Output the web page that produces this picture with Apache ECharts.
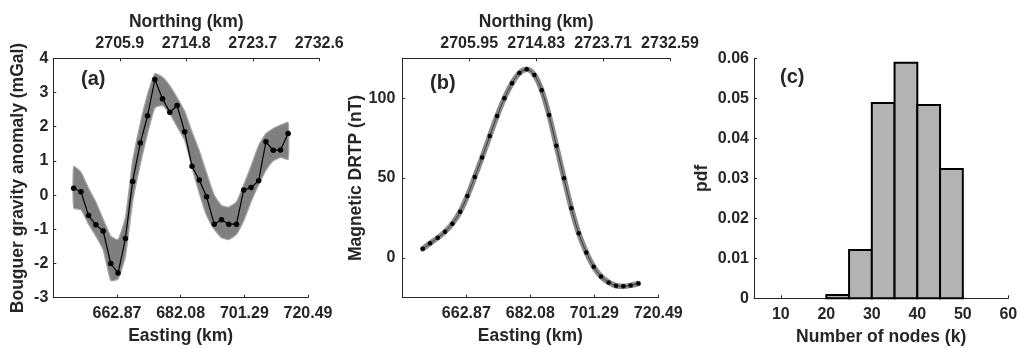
<!DOCTYPE html>
<html><head><meta charset="utf-8">
<script src="https://cdn.jsdelivr.net/npm/echarts@6/dist/echarts.min.js"></script>
<style>html,body{margin:0;padding:0;background:#fff}#c{width:1019px;height:348px}</style>
</head><body><div id="c"></div>
<script>
// ---- data ----
const easting = [649.8, 652.0, 654.3, 656.5, 658.7, 661.0, 663.2, 665.4, 667.6, 669.9,
                 672.1, 674.3, 676.6, 678.8, 681.0, 683.3, 685.5, 687.7, 689.9, 692.2,
                 694.4, 696.6, 698.9, 701.1, 703.3, 705.6, 707.8, 710.0, 712.2, 714.5];
const gravityObs = [0.2, 0.1, -0.6, -0.87, -1.05, -2.0, -2.28, -1.27, 0.4, 1.52,
                    2.32, 3.38, 2.82, 2.42, 2.62, 1.85, 0.84, 0.44, -0.05, -0.85,
                    -0.72, -0.85, -0.85, 0.15, 0.22, 0.42, 1.56, 1.31, 1.32, 1.8];
const gravityUpper = [0.84, 0.67, 0.2, -0.2, -0.7, -1.2, -1.3, -0.65, 1.0, 2.1,
                      2.95, 3.55, 3.45, 3.2, 2.85, 2.45, 1.85, 1.3, 0.65, 0.0,
                      -0.3, -0.35, -0.2, 0.3, 0.85, 1.45, 1.8, 1.95, 2.05, 2.12];
const gravityLower = [-0.38, -0.43, -0.85, -1.2, -1.6, -2.5, -2.45, -1.8, -0.2, 0.9,
                      1.8, 2.55, 2.62, 2.38, 2.0, 1.6, 0.8, 0.05, -0.6, -1.0,
                      -1.25, -1.3, -1.15, -0.75, -0.2, 0.3, 0.72, 1.0, 1.1, 1.05];
const magneticObs = [5.6, 9.1, 12.5, 16.4, 21.4, 28.8, 38.8, 50.6, 62.9, 76.3,
                     88.8, 100, 109.4, 115.8, 118.1, 114.6, 105, 89.4, 70.2, 49.8,
                     31, 15.4, 3.3, -5.6, -11.7, -15.4, -17.5, -17.9, -17.3, -16.1];
const histEdges = [20, 25, 30, 35, 40, 45, 50];
const histPdf = [0.0008, 0.0121, 0.0488, 0.0589, 0.0483, 0.0323];

const eastingTicks = [662.87, 682.08, 701.29, 720.49];
const northingTicksA = [2705.9, 2714.8, 2723.7, 2732.6];
const northingTicksB = [2705.95, 2714.83, 2723.71, 2732.59];
const gravityTicks = [-3, -2, -1, 0, 1, 2, 3, 4];
const magneticTicks = [0, 50, 100];
const pdfTicks = [0, 0.01, 0.02, 0.03, 0.04, 0.05, 0.06];
const nodeTicks = [10, 20, 30, 40, 50, 60];

// ---- style ----
const TXT = '#262626';
const FONT = 'Liberation Sans';
const axisLine = {show: true, onZero: false, lineStyle: {color: TXT, width: 1}};
function tick(vals) { return {show: true, inside: true, length: 3, customValues: vals, lineStyle: {color: TXT}}; }
function lab(vals, fmt, margin) {
  return {show: true, customValues: vals, formatter: fmt, margin: margin,
          color: TXT, fontFamily: FONT, fontWeight: 'bold', fontSize: 16};
}
const nameStyle = {color: TXT, fontFamily: FONT, fontWeight: 'bold', fontSize: 17.5};

const chart = echarts.init(document.getElementById('c'), null, {renderer: 'canvas'});
const top0 = 58.3, h0 = 239.4;
chart.setOption({
  animation: false,
  backgroundColor: '#fff',
  textStyle: {fontFamily: FONT},
  grid: [
    {left: 53.3, top: top0, width: 254.7, height: h0, outerBoundsMode: 'none'},
    {left: 53.3, top: top0, width: 266, height: h0, outerBoundsMode: 'none'},
    {left: 402.3, top: top0, width: 256, height: h0, outerBoundsMode: 'none'},
    {left: 402.3, top: top0, width: 267.7, height: h0, outerBoundsMode: 'none'},
    {left: 754, top: top0, width: 254.3, height: 240, outerBoundsMode: 'none'}
  ],
  xAxis: [
    {gridIndex: 0, type: 'value', position: 'bottom', min: 643.66, max: 720.49,
     axisLine: axisLine, axisTick: tick(eastingTicks), splitLine: {show: false},
     axisLabel: lab(eastingTicks, v => v.toFixed(2), 8),
     name: 'Easting (km)', nameLocation: 'middle', nameGap: 29.5, nameTextStyle: nameStyle},
    {gridIndex: 1, type: 'value', position: 'top', min: 2697.0, max: 2732.6,
     axisLine: axisLine, axisTick: tick(northingTicksA), splitLine: {show: false},
     axisLabel: lab(northingTicksA, v => v.toFixed(1), 6.5),
     name: 'Northing (km)', nameLocation: 'middle', nameGap: 27.5, nameTextStyle: nameStyle},
    {gridIndex: 2, type: 'value', position: 'bottom', min: 643.66, max: 720.49,
     axisLine: axisLine, axisTick: tick(eastingTicks), splitLine: {show: false},
     axisLabel: lab(eastingTicks, v => v.toFixed(2), 8),
     name: 'Easting (km)', nameLocation: 'middle', nameGap: 29.5, nameTextStyle: nameStyle},
    {gridIndex: 3, type: 'value', position: 'top', min: 2697.07, max: 2732.59,
     axisLine: axisLine, axisTick: tick(northingTicksB), splitLine: {show: false},
     axisLabel: lab(northingTicksB, v => v.toFixed(2), 6.5),
     name: 'Northing (km)', nameLocation: 'middle', nameGap: 27.5, nameTextStyle: nameStyle},
    {gridIndex: 4, type: 'value', position: 'bottom', min: 4.1, max: 60,
     axisLine: axisLine, axisTick: tick(nodeTicks), splitLine: {show: false},
     axisLabel: lab(nodeTicks, v => String(v), 8),
     name: 'Number of nodes (k)', nameLocation: 'middle', nameGap: 29.5, nameTextStyle: nameStyle}
  ],
  yAxis: [
    {gridIndex: 0, type: 'value', min: -3, max: 4,
     axisLine: axisLine, axisTick: tick(gravityTicks), splitLine: {show: false},
     axisLabel: lab(gravityTicks, v => String(v), 5),
     name: 'Bouguer gravity anomaly (mGal)', nameLocation: 'middle', nameGap: 26, nameTextStyle: nameStyle},
    {gridIndex: 1, type: 'value', min: 0, max: 1, show: false},
    {gridIndex: 2, type: 'value', min: -25, max: 125,
     axisLine: axisLine, axisTick: tick(magneticTicks), splitLine: {show: false},
     axisLabel: lab(magneticTicks, v => String(v), 7),
     name: 'Magnetic DRTP (nT)', nameLocation: 'middle', nameGap: 35, nameTextStyle: nameStyle},
    {gridIndex: 3, type: 'value', min: 0, max: 1, show: false},
    {gridIndex: 4, type: 'value', min: 0, max: 0.06,
     axisLine: axisLine, axisTick: tick(pdfTicks), splitLine: {show: false},
     axisLabel: lab(pdfTicks, v => (v === 0 ? '0' : v.toFixed(2)), 5),
     name: 'pdf', nameLocation: 'middle', nameGap: 43, nameTextStyle: nameStyle}
  ],
  graphic: [
    {type: 'text', left: 81, top: 69, style: {text: '(a)', fill: TXT, font: 'bold 20px "Liberation Sans"'}},
    {type: 'text', left: 430, top: 73, style: {text: '(b)', fill: TXT, font: 'bold 20px "Liberation Sans"'}},
    {type: 'text', left: 780, top: 67, style: {text: '(c)', fill: TXT, font: 'bold 20px "Liberation Sans"'}}
  ],
  series: [
    {type: 'custom', xAxisIndex: 0, yAxisIndex: 0, z: 1,
     data: easting.map((x, i) => [x, gravityUpper[i], gravityLower[i]]),
     encode: {x: 0, y: [1, 2]},
     renderItem: function (params, api) {
       if (params.dataIndex !== 0) return null;
       const up = easting.map((x, i) => api.coord([x, gravityUpper[i]]));
       const lo = easting.map((x, i) => api.coord([x, gravityLower[i]]));
       return {type: 'group', children: [
         {type: 'polygon', shape: {points: up.concat(lo.slice().reverse()), smooth: 0.15},
          style: {fill: '#7f7f7f', stroke: '#a6a6a6', lineWidth: 1.2}}
       ]};
     }},
    {type: 'line', xAxisIndex: 0, yAxisIndex: 0, z: 3,
     data: easting.map((x, i) => [x, gravityObs[i]]),
     lineStyle: {color: '#000', width: 1.2}, itemStyle: {color: '#000'},
     symbol: 'circle', symbolSize: 5.5},
    {type: 'line', xAxisIndex: 2, yAxisIndex: 2, z: 2, smooth: 0.3,
     data: easting.map((x, i) => [x, magneticObs[i]]),
     lineStyle: {color: '#8a8a8a', width: 5.5, cap: 'round'}, symbol: 'none'},
    {type: 'line', xAxisIndex: 2, yAxisIndex: 2, z: 3, smooth: 0.3,
     data: easting.map((x, i) => [x, magneticObs[i]]),
     lineStyle: {color: '#3a3a3a', width: 1}, itemStyle: {color: '#000'},
     symbol: 'circle', symbolSize: 4.5},
    {type: 'custom', xAxisIndex: 4, yAxisIndex: 4, z: 2,
     data: histPdf.map((p, i) => [histEdges[i], histEdges[i + 1], p]),
     encode: {x: [0, 1], y: 2},
     renderItem: function (params, api) {
       const p0 = api.coord([api.value(0), 0]);
       const p1 = api.coord([api.value(1), api.value(2)]);
       return {type: 'rect',
               shape: {x: p0[0], y: p1[1], width: p1[0] - p0[0], height: p0[1] - p1[1]},
               style: {fill: '#b3b3b3', stroke: '#000', lineWidth: 2}};
     }}
  ]
});
</script>
</body></html>
